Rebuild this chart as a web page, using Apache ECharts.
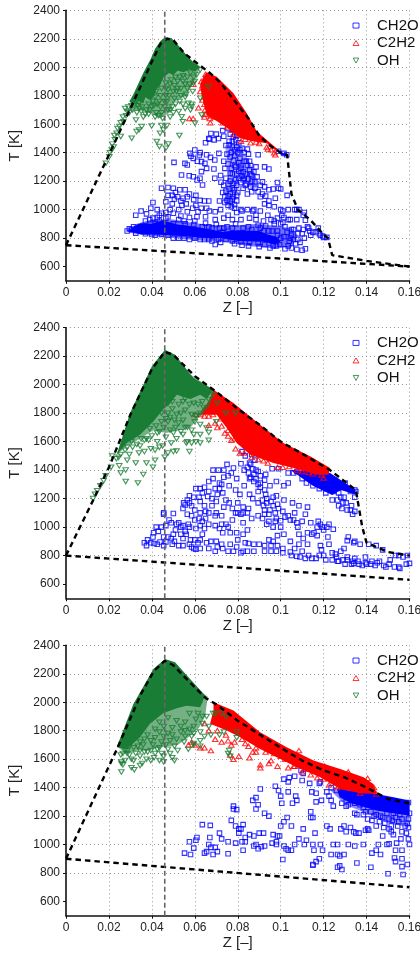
<!DOCTYPE html>
<html><head><meta charset="utf-8">
<style>html,body{margin:0;padding:0;background:#fff}#c{width:420px;height:954px}</style>
<script src="https://cdn.jsdelivr.net/npm/echarts@6/dist/echarts.min.js"></script></head>
<body><div id="c"></div>
<script>
const zTicks=[0,.02,.04,.06,.08,.1,.12,.14,.16];
const tTicks=[600,800,1000,1200,1400,1600,1800,2000,2200,2400];
const refZ=0.046;
// dashed bounds
const upper1=[[0,750],[.02,1385],[.03,1710],[.04,2040],[.044,2165],[.047,2200],[.05,2190],[.055,2100],[.06,2040],[.067,1960],[.072,1890],[.08,1735],[.085,1640],[.09,1520],[.095,1450],[.1,1400],[.103,1385],[.105,1110],[.108,1000],[.114,925],[.12,825],[.122,800],[.124,680],[.14,640],[.16,600]];
const lower1=[[0,750],[.16,600]];
const upper2=[[0,800],[.013,1200],[.02,1420],[.03,1790],[.04,2110],[.046,2230],[.05,2210],[.06,2060],[.07,1950],[.08,1830],[.09,1720],[.1,1600],[.11,1515],[.123,1400],[.135,1260],[.138,1000],[.14,890],[.15,825],[.16,800]];
const lower2=[[0,800],[.16,630]];
const upper3=[[0,900],[.024,1680],[.035,2060],[.041,2220],[.046,2290],[.05,2260],[.057,2150],[.065,2030],[.07,1985],[.08,1870],[.09,1775],[.1,1680],[.11,1590],[.12,1520],[.13,1470],[.14,1400],[.15,1320],[.16,1290]];
const lower3=[[0,900],[.16,700]];
// solid-looking dense cores
const ohCore1=[[.0295,1760],[.0314,1810],[.036,1960],[.0395,2060],[.0415,2130],[.044,2185],[.0461,2210],[.049,2205],[.0508,2180],[.0562,2085],[.059,2040],[.0625,2004],[.0601,1970],[.0575,1985],[.0547,1965],[.052,1975],[.05,1945],[.048,1960],[.0454,1930],[.044,1880],[.0423,1850],[.041,1800],[.0391,1770],[.037,1790],[.036,1745],[.033,1770],[.0314,1735]];
const c2Core1=[[.064,1934],[.0655,1965],[.0702,1934],[.078,1817],[.0842,1677],[.0889,1548],[.0982,1430],[.0982,1408],[.0935,1466],[.087,1480],[.0811,1501],[.0765,1560],[.0718,1606],[.0656,1665],[.0635,1780],[.0625,1880]];
const chCore1=[[.029,850],[.032,885],[.035,905],[.04,900],[.045,925],[.052,895],[.06,880],[.067,860],[.073,845],[.08,855],[.09,850],[.094,825],[.098,810],[.1,770],[.096,760],[.092,775],[.08,780],[.072,800],[.065,800],[.05,820],[.04,825],[.035,825]];
const chCore1b=[[.1,1400],[.1025,1395],[.1025,1380],[.1,1385]];
const ohCore2=[[.0236,1508],[.0298,1800],[.04,2130],[.0461,2245],[.0508,2210],[.0593,2047],[.0687,1965],[.0655,1900],[.0625,1930],[.058,1900],[.0516,1930],[.048,1860],[.0454,1830],[.0407,1742],[.0345,1649],[.0283,1590]];
const c2Core2=[[.0687,1965],[.078,1871],[.0904,1719],[.1013,1590],[.1137,1497],[.123,1415],[.1222,1368],[.1168,1368],[.106,1415],[.0966,1450],[.0858,1508],[.0795,1590],[.0749,1696],[.0702,1789],[.0625,1789],[.0663,1883]];
const chCore2=[[.1044,1403],[.123,1380],[.135,1260],[.1345,1230],[.128,1260],[.124,1225],[.115,1290]];
const ohCore3=[[.0236,1684],[.0314,1988],[.0407,2234],[.0461,2304],[.0508,2281],[.0578,2164],[.0648,2047],[.0625,1965],[.0562,1975],[.052,1960],[.0454,1925],[.0391,1848],[.0345,1754],[.0283,1672]];
const c2Core3=[[.0687,2000],[.078,1941],[.0904,1789],[.1028,1684],[.1153,1590],[.1277,1531],[.1386,1473],[.1432,1426],[.1448,1356],[.137,1361],[.1277,1391],[.1184,1473],[.1075,1543],[.0982,1614],[.0904,1672],[.0811,1754],[.0749,1801],[.0671,1848],[.0687,1941]];
const chCore3=[[.1262,1391],[.1401,1368],[.1526,1333],[.16,1309],[.16,1204],[.1538,1216],[.1445,1240],[.1336,1286],[.1274,1333]];
// thinner, textured regions
const ohSoft1=[[.0295,1700],[.034,1700],[.039,1680],[.044,1640],[.048,1680],[.0505,1760],[.056,1800],[.059,1880],[.0625,2000],[.05,2100],[.04,2000]];
const ohSoft2=[[.0236,1508],[.0283,1570],[.0345,1620],[.0407,1680],[.0465,1660],[.0525,1680],[.058,1700],[.0625,1780],[.067,1850],[.0687,1965],[.05,2150],[.035,1900]];
const ohSoft3=[[.0245,1680],[.028,1640],[.033,1660],[.038,1660],[.043,1680],[.0475,1690],[.052,1700],[.0575,1760],[.062,1820],[.0648,1900],[.066,2040],[.05,2200],[.035,2000]];
const chSoft1=[[.028,855],[.033,900],[.04,930],[.05,930],[.06,905],[.07,890],[.08,890],[.09,900],[.1,880],[.105,870],[.108,820],[.105,735],[.095,730],[.085,745],[.075,770],[.065,780],[.05,800],[.04,815],[.03,835]];
const chSoft1b=[[.074,1450],[.08,1470],[.083,1400],[.0875,1280],[.0895,1180],[.0875,1130],[.081,1220],[.0795,1130],[.078,1020],[.074,1040],[.0755,1250],[.075,1350]];
const chSoft3=[[.1225,1390],[.16,1300],[.16,1120],[.15,1150],[.14,1220],[.13,1280]];
// scattered markers
const oh1=[[.0186,1326],[.0202,1372],[.0213,1419],[.0222,1440],[.0228,1490],[.0236,1536],[.0255,1513],[.0249,1583],[.0267,1618],[.028,1660],[.0306,1501],[.0329,1548],[.0353,1583],[.0326,1630],[.034,1560],[.0423,1478],[.0435,1443],[.0477,1461],[.0465,1431],[.0528,1520],[.0438,1536],[.0454,1560],[.0399,1588],[.0445,1590],[.047,1590],[.0544,1618],[.0539,1653],[.0601,1606],[.0632,1665],[.0586,1724],[.057,1747],[.0625,1782],[.0663,1864],[.0593,1887],[.0609,1946],[.0625,1981],[.058,1700],[.0525,1690],[.0495,1720],[.0485,1650],[.045,1640],[.042,1680],[.0385,1670],[.036,1650],[.033,1680],[.031,1700],[.0295,1680],[.0275,1710],[.04,1720],[.044,1720],[.047,1760],[.0505,1780],[.053,1760],[.056,1810],[.059,1830],[.0515,1830],[.0475,1840],[.044,1800],[.0415,1790],[.0385,1740],[.0355,1720],[.0335,1730],[.034,1710],[.0555,1880],[.052,1900],[.0485,1880],[.0465,1890],[.0565,1930],[.0595,1930],[.0505,1870],[.0465,1800],[.0435,1760],[.0405,1760],[.0375,1700],[.0415,1650],[.0475,1700],[.0555,1710],[.0585,1740],[.035,1690],[.037,1670],[.039,1700],[.041,1730],[.043,1660],[.0445,1680],[.046,1720],[.0485,1700],[.05,1680],[.051,1740],[.0545,1740],[.0555,1790],[.0535,1800],[.052,1850],[.05,1830],[.048,1800],[.046,1760],[.0425,1740],[.0395,1790],[.042,1830],[.0445,1850],[.0465,1850],[.049,1910],[.051,1930],[.053,1930],[.0545,1900],[.0575,1880],[.0565,1850],[.0535,1850],[.06,1900],[.058,1960],[.0545,1940],[.0425,1870],[.0435,1900],[.034,1750],[.033,1760],[.032,1740],[.0305,1730],[.029,1720],[.0285,1690],[.0265,1650],[.0255,1610],[.024,1570],[.0225,1520],[.0215,1460],[.0205,1400]];
const c2_1=[[.0575,1640],[.0592,1640],[.0593,1880],[.0617,1715],[.0647,1700],[.0648,1670],[.0674,1660],[.0672,1610],[.0695,1650],[.071,1690],[.0625,1830],[.0635,1870],[.0645,1740],[.0655,1780],[.075,1580],[.0785,1530],[.0815,1480],[.086,1470],[.09,1465],[.0935,1440],[.097,1400],[.0975,1385],[.094,1425],[.068,1720],[.0635,1770],[.0645,1820],[.073,1610],[.0775,1560],[.0835,1495],[.0885,1475],[.0955,1420],[.0645,1650],[.0665,1700],[.067,1640],[.063,1900],[.065,1950]];
const ch1=[[.0503,1332],[.0538,1243],[.0574,1238],[.0593,1231],[.0554,1325],[.0565,1313],[.0577,1395],[.06,1419],[.0621,1384],[.0593,1360],[.0631,1337],[.0647,1325],[.0655,1290],[.0631,1267],[.0624,1220],[.0611,1208],[.0636,1173],[.0673,1367],[.0693,1349],[.0712,1395],[.0689,1285],[.0693,1220],[.0722,1192],[.0655,1385],[.0625,1400],[.0582,1375],[.0612,1340],[.065,1470],[.0668,1495],[.0675,1535],[.069,1490],[.071,1500],[.073,1555],[.0755,1570],[.0775,1565],[.079,1490],[.0665,1500],[.07,1530],[.0735,1515],[.076,1455],[.077,1400],[.0745,1450],[.075,1390],[.0735,1340],[.074,1290],[.0755,1320],[.078,1345],[.079,1300],[.08,1400],[.081,1360],[.0795,1250],[.0815,1310],[.0825,1265],[.083,1220],[.084,1180],[.0845,1310],[.086,1250],[.0865,1200],[.082,1430],[.0845,1425],[.085,1390],[.0895,1385],[.0925,1300],[.0945,1285],[.0875,1265],[.089,1230],[.0905,1170],[.0925,1160],[.088,1150],[.0865,1125],[.0845,1110],[.0825,1150],[.08,1120],[.078,1090],[.0765,1060],[.074,1050],[.0755,1030],[.0785,1010],[.0775,1150],[.0755,1180],[.073,1120],[.0745,1220],[.0765,1255],[.072,1240],[.0715,1060],[.0905,1090],[.0925,1040],[.0945,1030],[.0965,1145],[.099,1150],[.0945,1140],[.097,1020],[.101,990],[.1035,1000],[.1065,1000],[.1015,945],[.097,920],[.094,960],[.0905,990],[.0875,1000],[.0845,1000],[.082,990],[.0795,980],[.0755,960],[.072,1000],[.0695,985],[.0668,990],[.0645,1060],[.0665,1060],[.0625,1065],[.0595,1070],[.0605,1100],[.0575,1110],[.0555,1140],[.053,1140],[.05,1150],[.0475,1155],[.0445,1150],[.0505,1075],[.052,1090],[.054,1030],[.056,1040],[.059,1010],[.0615,985],[.0565,985],[.0525,1000],[.0495,1040],[.0465,1055],[.0425,1000],[.0405,1050],[.0395,1010],[.0375,970],[.035,990],[.0325,960],[.0405,940],[.0435,960],[.0465,940],[.05,900],[.055,920],[.06,920],[.065,905],[.07,895],[.075,880],[.079,900],[.085,880],[.0895,890],[.093,885],[.097,900],[.101,910],[.1045,930],[.1075,930],[.111,980],[.1085,1000],[.1115,925],[.113,870],[.1085,870],[.105,820],[.11,830],[.115,840],[.118,830],[.1195,815],[.1215,805],[.1175,870],[.11,715],[.1115,725],[.1075,720],[.105,730],[.102,725],[.098,745],[.095,730],[.09,740],[.085,745],[.082,750],[.0785,760],[.072,770],[.0695,755],[.0665,790],[.0625,790],[.0575,790],[.0525,800],[.0475,820],[.0415,820],[.037,830],[.0325,835],[.0285,850],[.0295,865],[.0315,880],[.108,790],[.104,780],[.1,800],[.0985,850],[.102,880],[.106,860],[.111,800],[.114,820],[.1,900],[.096,850],[.092,850],[.0875,810],[.0835,830],[.077,820],[.073,840],[.068,870],[.063,830],[.058,860],[.053,850],[.1,1000],[.103,1100],[.0985,1190],[.1028,1385],[.1015,1395],[.099,1410]];
const ch1more=[[.076,1480],[.0775,1440],[.0785,1420],[.0765,1370],[.0785,1380],[.0795,1440],[.081,1420],[.083,1400],[.0805,1330],[.0785,1310],[.077,1290],[.0775,1250],[.079,1210],[.0805,1270],[.082,1235],[.0835,1250],[.085,1215],[.0865,1240],[.0855,1280],[.0885,1300],[.0815,1190],[.0795,1170],[.078,1185],[.0765,1200],[.0785,1140],[.0765,1110],[.0775,1075],[.0795,1060],[.0785,1035],[.0755,1095],[.074,1090],[.076,1145],[.0735,1170],[.086,1160],[.088,1195],[.0895,1125],[.0915,1110],[.093,1095],[.0915,1195],[.084,1340],[.083,1340],[.0855,1340],[.086,1310],[.0775,1480],[.0805,1470],[.0795,1520],[.078,1510],[.0765,1530],[.0815,1290],[.0835,1170],[.0825,1210],[.0805,1220],[.0795,1100],[.077,1020],[.075,1065],[.0745,1130],[.0415,900],[.038,880],[.0345,880],[.033,860],[.0305,860],[.0435,920],[.0475,950],[.0465,980],[.0445,975],[.0425,945],[.039,930],[.037,920],[.0525,930],[.0555,900],[.0595,895],[.0635,880],[.0665,880],[.0715,870],[.0735,870],[.0775,870],[.0825,870],[.0865,860],[.0905,870],[.0945,850],[.0985,820],[.1015,810],[.1045,800],[.107,760],[.1035,745],[.0995,755],[.0965,745],[.0925,755],[.0895,765],[.0855,770],[.0815,775],[.0775,780],[.0745,790],[.071,790],[.068,780],[.0645,790],[.06,800],[.055,800],[.05,800],[.0445,825],[.04,825],[.105,860],[.108,830],[.1105,860],[.1135,850],[.1165,845],[.1185,820],[.12,805],[.103,840],[.106,790],[.109,770],[.1035,930],[.1005,960],[.0985,940],[.0955,930],[.092,920],[.0885,930],[.0855,940],[.0815,930],[.0775,930],[.0735,940],[.0695,930],[.065,950],[.061,950],[.0575,945],[.0535,955],[.05,975],[.0485,1000],[.0545,1080],[.0565,1090],[.0535,1060],[.051,1120],[.0495,1100],[.0475,1100],[.063,1010],[.0605,1030],[.0655,1010],[.0815,1000],[.087,990],[.0885,960],[.1075,1000],[.1105,960],[.1125,880],[.0975,1080],[.0945,1060],[.1,1145]];
const oh2=[[.0126,1200],[.0135,1230],[.0145,1255],[.016,1290],[.0175,1325],[.0185,1360],[.021,1420],[.0235,1480],[.0248,1430],[.0255,1380],[.0278,1400],[.0285,1470],[.0295,1510],[.0325,1450],[.0335,1310],[.0278,1320],[.036,1370],[.0375,1450],[.0405,1420],[.0415,1470],[.046,1490],[.0475,1520],[.05,1530],[.0515,1535],[.0575,1530],[.045,1570],[.0425,1600],[.0395,1550],[.0365,1530],[.0345,1570],[.031,1560],[.056,1590],[.0585,1590],[.0605,1600],[.0625,1590],[.0665,1610],[.0665,1665],[.0655,1695],[.0625,1650],[.0595,1650],[.0565,1600],[.0545,1650],[.0515,1620],[.049,1590],[.0465,1630],[.0435,1670],[.04,1640],[.0565,1700],[.06,1740],[.0545,1750],[.051,1700],[.0475,1740],[.0445,1740],[.0585,1790],[.0625,1800],[.0555,1820],[.0515,1790],[.0475,1800],[.0445,1800],[.0635,1880],[.0595,1870],[.0525,1860],[.0475,1870],[.0555,1900],[.0685,1930],[.0665,1895],[.0705,1870],[.0745,1800],[.079,1800],[.07,1740],[.034,1520],[.0285,1560],[.0215,1500],[.0535,1670],[.0415,1540],[.0435,1560],[.0365,1610],[.0375,1620],[.039,1690],[.042,1710],[.0455,1700],[.0485,1680],[.05,1660],[.0525,1730],[.0555,1700],[.0585,1680],[.0605,1780],[.0625,1720],[.064,1840],[.0615,1860],[.0575,1860],[.0545,1880],[.0495,1880],[.0495,1830],[.0535,1800],[.0465,1760],[.0485,1770],[.0505,1750],[.0425,1660],[.0385,1610],[.035,1620],[.033,1580],[.0305,1600],[.0275,1540],[.0255,1510],[.0245,1490]];
const c2_2=[[.0605,1790],[.0625,1790],[.0645,1780],[.0665,1780],[.0685,1790],[.0665,1715],[.0695,1730],[.0705,1700],[.0725,1710],[.0755,1680],[.0755,1640],[.0785,1620],[.079,1550],[.081,1520],[.0865,1490],[.0895,1475],[.094,1450],[.0985,1420],[.101,1420],[.104,1425],[.11,1390],[.115,1375],[.119,1365],[.12,1345],[.074,1660],[.077,1610],[.072,1760],[.0645,1830],[.083,1520],[.092,1465],[.1075,1400],[.113,1385]];
const ch2=[[.0365,890],[.0375,870],[.038,910],[.0395,890],[.0405,930],[.041,885],[.0425,880],[.043,970],[.042,1000],[.0408,960],[.0438,895],[.0455,930],[.0445,1000],[.0455,1090],[.0455,1100],[.048,1050],[.0465,1010],[.0455,870],[.0475,930],[.049,920],[.0495,880],[.05,950],[.051,980],[.0505,900],[.0525,870],[.0535,950],[.0545,920],[.0555,970],[.056,950],[.0535,1000],[.0545,1010],[.0515,1020],[.05,1095],[.0545,870],[.0575,880],[.0595,850],[.0605,845],[.0625,850],[.058,910],[.06,910],[.0625,910],[.0575,1000],[.06,1050],[.062,1060],[.0625,1100],[.0585,1080],[.0565,1090],[.0565,1190],[.0548,1170],[.0575,1220],[.0555,1155],[.0585,1150],[.0605,1270],[.0625,1270],[.0645,1280],[.062,1210],[.0625,1180],[.0595,1210],[.0645,1150],[.0665,1100],[.065,1060],[.0635,1040],[.0665,1020],[.0645,990],[.0625,1010],[.0605,990],[.0695,1010],[.0715,990],[.0725,1020],[.0745,1020],[.0755,1000],[.0775,1050],[.08,1100],[.0825,1030],[.0845,980],[.0825,950],[.0795,960],[.0765,960],[.073,960],[.07,900],[.0655,890],[.0665,850],[.0695,830],[.073,850],[.0755,830],[.078,830],[.0825,830],[.0835,890],[.08,910],[.085,885],[.0875,880],[.09,880],[.0925,870],[.0955,830],[.0985,870],[.101,850],[.1045,825],[.1075,795],[.11,830],[.1115,780],[.1145,780],[.118,800],[.121,770],[.124,770],[.127,760],[.13,740],[.1335,760],[.136,760],[.14,740],[.144,730],[.146,760],[.149,720],[.153,720],[.1555,710],[.1585,740],[.16,745],[.157,790],[.1535,800],[.151,770],[.148,730],[.142,740],[.138,730],[.133,740],[.128,830],[.1255,810],[.131,790],[.1345,780],[.1395,790],[.1445,870],[.1475,840],[.141,880],[.137,880],[.134,890],[.131,905],[.1295,850],[.1345,900],[.1315,930],[.1245,985],[.1225,1020],[.1195,1000],[.117,1000],[.1145,950],[.117,940],[.1185,870],[.1125,880],[.1105,920],[.1085,880],[.1065,850],[.1045,900],[.1015,950],[.0985,940],[.0965,1000],[.0935,1020],[.098,1060],[.101,1110],[.1035,1080],[.1065,1100],[.11,1040],[.108,1000],[.1115,1090],[.1125,1140],[.1085,1150],[.1055,1170],[.1015,1190],[.0985,1160],[.098,1220],[.1015,1290],[.1035,1310],[.098,1320],[.095,1290],[.0925,1260],[.0905,1310],[.0895,1390],[.087,1410],[.0845,1420],[.0815,1445],[.078,1415],[.075,1440],[.0735,1400],[.071,1400],[.0685,1400],[.0665,1320],[.0685,1340],[.0735,1350],[.076,1290],[.0715,1270],[.0705,1230],[.07,1180],[.073,1240],[.0745,1190],[.076,1170],[.0735,1140],[.079,1260],[.081,1230],[.083,1290],[.086,1350],[.0885,1340],[.0895,1250],[.0855,1230],[.087,1200],[.0895,1170],[.092,1150],[.093,1230],[.095,1120],[.0945,1090],[.0975,1100],[.0925,1090],[.0895,1080],[.0865,1060],[.0845,1100],[.0825,1140],[.08,1170],[.0815,1090],[.082,1530],[.0835,1500],[.0865,1510],[.0855,1450],[.088,1470],[.099,1410],[.1035,1380],[.106,1380],[.11,1340],[.112,1310],[.115,1290],[.118,1270],[.121,1240],[.124,1190],[.127,1150],[.129,1170],[.131,1120],[.1335,1090],[.1345,1110],[.128,1210],[.122,1290],[.125,1330],[.13,1310],[.133,1260],[.135,1250],[.0775,1130],[.079,1100],[.07,1100],[.068,1150],[.066,1215],[.0725,1300],[.077,1380],[.0795,1340],[.093,1370],[.096,1410],[.057,1020],[.049,1030],[.0465,895],[.0525,1030],[.1045,1050],[.114,1030]];
const ch2more=[[.083,1400],[.085,1380],[.086,1440],[.0875,1370],[.0885,1400],[.0905,1360],[.0855,1340],[.0875,1320],[.0895,1300],[.0905,1280],[.0925,1330],[.0935,1200],[.0915,1190],[.0935,1170],[.0955,1180],[.0965,1150],[.0965,1210],[.099,1130],[.0925,1120],[.0915,1060],[.0945,1040],[.0975,1040],[.1,1045],[.102,1070],[.106,1050],[.1075,1030],[.1085,950],[.1125,960],[.0945,910],[.098,830],[.101,820],[.105,800],[.109,790],[.113,800],[.1165,780],[.12,800],[.124,820],[.126,790],[.129,770],[.1365,740],[.1395,750],[.1425,760],[.145,750],[.1505,740],[.155,720],[.159,800],[.155,800],[.1175,1040],[.12,980],[.1215,1000],[.1185,1020],[.1155,960],[.122,930],[.1225,880],[.119,840],[.1265,760],[.131,770],[.134,745],[.1165,1380],[.1185,1340],[.1205,1320],[.1155,1350],[.1115,1370],[.1075,1390],[.1245,1290],[.127,1240],[.1295,1210],[.1265,1190],[.1285,1130],[.133,1150],[.1305,1170],[.1325,1120],[.1345,1210],[.1245,1250],[.1215,1270],[.1295,1280],[.1325,1250],[.1345,1260],[.0755,1360],[.0715,1310],[.0695,1270],[.0665,1250],[.068,1200],[.0635,1240],[.06,1120],[.0575,1170],[.0545,1130],[.065,1110],[.0695,1080],[.0725,1080],[.085,1130],[.0825,1100],[.0635,950],[.0615,890],[.0585,860],[.0675,900],[.0705,860],[.0725,880],[.0765,880],[.0795,860],[.0815,820],[.0845,830],[.0875,830],[.0925,830],[.0955,870],[.0965,900],[.1,1000]];
const oh3=[[.0258,1570],[.0258,1580],[.0265,1560],[.0275,1590],[.0258,1510],[.0315,1590],[.0305,1600],[.0295,1630],[.0318,1525],[.0305,1540],[.0345,1555],[.0355,1570],[.0375,1600],[.0395,1590],[.0435,1590],[.0455,1580],[.0505,1590],[.0485,1640],[.0455,1620],[.0415,1640],[.038,1650],[.0345,1620],[.0265,1640],[.0285,1640],[.0295,1690],[.0335,1690],[.036,1700],[.0405,1700],[.0435,1680],[.0465,1700],[.0505,1690],[.052,1660],[.055,1720],[.057,1670],[.0595,1700],[.0625,1730],[.0645,1760],[.0595,1780],[.0555,1760],[.0515,1740],[.0475,1780],[.0435,1790],[.038,1770],[.0675,1770],[.0665,1830],[.0635,1850],[.0605,1880],[.0655,1900],[.0685,1920],[.0695,1920],[.0725,1920],[.0745,1900],[.0795,1790],[.0795,1750],[.0765,1620],[.076,1660],[.0755,1640],[.0735,1790],[.0715,1770],[.0625,1690],[.0595,1710],[.0495,1610],[.041,1610],[.0285,1660],[.0555,1860],[.0515,1870],[.0475,1890],[.0575,1920],[.0325,1640],[.0345,1660],[.0365,1650],[.0395,1660],[.0425,1670],[.0445,1720],[.0485,1730],[.0535,1790],[.0575,1810],[.0535,1830],[.0495,1820],[.0455,1830],[.0415,1750],[.0395,1730],[.0365,1740],[.0345,1720],[.0315,1680],[.0275,1660],[.0255,1630],[.0455,1760],[.0415,1810],[.0435,1860],[.0595,1830],[.0625,1790],[.0615,1920],[.0635,1900],[.0585,1760],[.0555,1800],[.0495,1770],[.0475,1670],[.0445,1640]];
const c2_3=[[.057,1700],[.0585,1720],[.06,1700],[.0625,1680],[.0645,1680],[.0675,1660],[.0695,1740],[.0725,1720],[.0755,1730],[.077,1700],[.0765,1630],[.078,1600],[.0805,1620],[.0855,1610],[.087,1650],[.0885,1680],[.0905,1560],[.0905,1540],[.0945,1570],[.0955,1590],[.0985,1550],[.1,1620],[.1035,1540],[.106,1550],[.11,1510],[.114,1490],[.12,1460],[.131,1400],[.137,1360],[.1445,1355],[.093,1650],[.085,1690],[.082,1740],[.0745,1770],[.0705,1800],[.0665,1800],[.0645,1850],[.0785,1720],[.0835,1710],[.0885,1650],[.097,1640],[.102,1600],[.1065,1550],[.1125,1530],[.117,1470],[.1225,1420],[.1265,1400],[.1085,1660],[.1205,1550],[.1315,1510],[.1405,1465],[.1435,1400]];
const ch3=[[.0552,940],[.0575,1020],[.058,930],[.0605,1030],[.061,1050],[.0595,975],[.0635,1140],[.0672,1135],[.067,1050],[.0645,940],[.0655,950],[.0665,1000],[.0675,980],[.0695,980],[.0705,950],[.0685,930],[.0715,1080],[.0725,1040],[.0755,1020],[.0755,935],[.077,1170],[.078,1270],[.078,1250],[.0795,1245],[.079,1130],[.0805,1110],[.0815,1110],[.0825,1140],[.0805,1080],[.079,1010],[.082,1020],[.0825,960],[.0835,1050],[.0835,1020],[.0855,1070],[.0875,1060],[.0885,1000],[.0895,970],[.0875,990],[.091,985],[.0925,990],[.092,1080],[.09,1080],[.087,1310],[.0885,1330],[.0885,1250],[.0895,1280],[.0925,1220],[.0945,1200],[.0965,1070],[.096,1010],[.098,1020],[.0995,1060],[.098,1000],[.0985,1060],[.1,1130],[.1015,1160],[.103,1190],[.105,1130],[.1015,990],[.1025,970],[.1035,960],[.105,960],[.101,895],[.1065,1000],[.1085,1040],[.111,1000],[.112,1030],[.1105,1110],[.114,1230],[.115,1190],[.114,1190],[.116,1080],[.1155,960],[.115,1000],[.1185,1000],[.1195,960],[.115,860],[.115,855],[.1165,880],[.118,900],[.1215,1130],[.123,1110],[.1245,1000],[.1235,930],[.1265,930],[.128,1110],[.1295,1130],[.1305,1090],[.1325,1120],[.134,1090],[.135,1080],[.1365,1080],[.1395,1100],[.141,1100],[.1385,1000],[.1345,990],[.1315,1000],[.1265,1000],[.1275,920],[.1295,930],[.1355,870],[.1265,840],[.1275,850],[.1285,825],[.142,840],[.1425,940],[.1445,960],[.1465,930],[.1455,1000],[.1495,1000],[.1505,1005],[.154,1010],[.156,1040],[.1565,960],[.1535,960],[.15,795],[.153,905],[.1565,900],[.1565,845],[.1535,880],[.159,860],[.157,790],[.16,1000],[.1595,1040],[.1565,1090],[.1585,1080],[.1405,1110],[.1445,1130],[.148,1120],[.1505,1110],[.152,1170],[.1435,1200],[.1385,1260],[.1355,1210],[.1315,1280],[.1285,1290],[.1305,1270],[.1245,1270],[.1235,1310],[.1225,1340],[.119,1310],[.1165,1300],[.1165,1360],[.118,1430],[.1135,1430],[.1145,1370],[.11,1450],[.1065,1480],[.104,1470],[.1035,1440],[.1015,1460],[.0975,1410],[.0905,1390],[.1035,1370],[.107,1340],[.1075,1310],[.1055,1290],[.1005,1290],[.1,1340],[.099,1380],[.1105,1500],[.1095,1520],[.1185,1440],[.1215,1370],[.1235,1400],[.1285,1370],[.1345,1220],[.1385,1210],[.1405,1180],[.1425,1170],[.146,1160],[.1485,1150],[.1515,1130],[.155,1160],[.159,1150],[.1465,1200],[.1495,1260],[.153,1270],[.1565,1260],[.1595,1295],[.1412,1330],[.135,1350],[.1315,1350],[.126,1380],[.129,1390],[.1305,1330],[.1325,1310],[.1345,1290],[.137,1280],[.1395,1230],[.142,1230],[.1445,1210],[.1475,1190],[.1505,1180],[.1535,1190],[.1565,1180],[.1595,1180],[.16,1220],[.1555,1210],[.1525,1220],[.1495,1220],[.1595,1120],[.158,1130],[.1545,1130],[.1515,1090],[.1475,1060],[.1525,1070]];
const FONT='"Liberation Sans",Arial,sans-serif';
const BLUE='#0000ff',RED='#ff0000',GREEN='#1a7d35';
const panels=[
 {top:10.3,height:270.5,up:upper1,lo:lower1,ch:ch1.concat(ch1more),c2:c2_1,oh:oh1,chCores:[chCore1,chCore1b],c2Core:c2Core1,ohCore:ohCore1,chSoft:[[chSoft1,.55],[chSoft1b,.35]],ohSoft:ohSoft1},
 {top:327.7,height:270.6,up:upper2,lo:lower2,ch:ch2.concat(ch2more),c2:c2_2,oh:oh2,chCores:[chCore2],c2Core:c2Core2,ohCore:ohCore2,chSoft:[],ohSoft:ohSoft2},
 {top:645.3,height:270.4,up:upper3,lo:lower3,ch:ch3,c2:c2_3,oh:oh3,chCores:[chCore3],c2Core:c2Core3,ohCore:ohCore3,chSoft:[[chSoft3,.45]],ohSoft:ohSoft3}
];
const grid=[],xAxis=[],yAxis=[],series=[],legend=[];
panels.forEach((p,i)=>{
 grid.push({left:66,width:343.5,top:p.top,height:p.height,outerBoundsMode:'none'});
 const line={show:true,onZero:false,lineStyle:{color:'#111',width:1.6}};
 const split={show:true,showMinLine:false,lineStyle:{color:'#999',type:[1,3],width:1}};
 xAxis.push({gridIndex:i,type:'value',min:0,max:.16,interval:.02,name:'Z [–]',nameLocation:'middle',nameGap:20,
  nameTextStyle:{fontFamily:FONT,fontSize:15,color:'#222'},axisLine:line,axisTick:{show:true,length:3,lineStyle:{color:'#111'}},
  axisLabel:{fontFamily:FONT,fontSize:12,color:'#222',margin:6,showMinLabel:true,showMaxLabel:true,hideOverlap:false,formatter:v=>String(+v.toFixed(2))},splitLine:split});
 yAxis.push({gridIndex:i,type:'value',min:500,max:2400,name:'T [K]',nameLocation:'middle',nameGap:31,
  nameTextStyle:{fontFamily:FONT,fontSize:15,color:'#222'},axisLine:line,
  axisTick:{show:true,length:3,lineStyle:{color:'#111'},customValues:tTicks},
  axisLabel:{fontFamily:FONT,fontSize:12,color:'#222',margin:6,customValues:tTicks,formatter:v=>String(v)},splitLine:split});
 const core=(pts,color,z,opacity=1)=>({type:'custom',xAxisIndex:i,yAxisIndex:i,silent:true,z,data:pts,animation:false,
  renderItem:(params,api)=>params.dataIndex===0?{type:'polygon',shape:{points:pts.map(q=>api.coord(q))},style:{fill:color,opacity}}:null,encode:{x:0,y:1}});
 const scat=(name,data,symbol,rot,color,size,z)=>({type:'scatter',name,xAxisIndex:i,yAxisIndex:i,data,symbol,symbolRotate:rot,symbolSize:size,z,
  itemStyle:{color:'rgba(255,255,255,0)',borderColor:color,borderWidth:1.1},animation:false,silent:true,large:false});
 p.chSoft.forEach(s=>series.push(core(s[0],BLUE,3,s[1])));
 series.push(scat('CH2O',p.ch,'rect',0,BLUE,4.5,3));
 p.chCores.forEach(c=>series.push(core(c,BLUE,3)));
 series.push(core(p.c2Core,RED,4));
 series.push(scat('C2H2',p.c2,'triangle',0,RED,[5.5,4.5],4));
 series.push(core(p.ohSoft,GREEN,5,.6));
 series.push(core(p.ohCore,GREEN,5));
 series.push(scat('OH',p.oh,'triangle',180,GREEN,[5.5,4.5],5));
 const dash={color:'#000',width:2.4,type:[5.5,4]};
 series.push({type:'line',xAxisIndex:i,yAxisIndex:i,data:p.up,symbol:'none',lineStyle:dash,z:6,animation:false,silent:true});
 series.push({type:'line',xAxisIndex:i,yAxisIndex:i,data:p.lo,symbol:'none',lineStyle:dash,z:6,animation:false,silent:true});
 series.push({type:'line',xAxisIndex:i,yAxisIndex:i,data:[[refZ,500],[refZ,2400]],symbol:'none',lineStyle:{color:'#666',width:1.6,type:[5,3]},z:6,animation:false,silent:true});
 legend.push({data:[{name:'CH2O',icon:'rect'},{name:'C2H2',icon:'triangle'},{name:'OH',icon:'path://M0,0L10,0L5,9Z'}],orient:'vertical',left:352.5,top:p.top+6.5,padding:0,itemGap:0,itemWidth:6,itemHeight:5,selectedMode:false,
  itemStyle:{borderWidth:1},
  textStyle:{fontFamily:FONT,fontSize:15,color:'#111',lineHeight:17.5,padding:[0,0,0,13]}});
});
const chart=echarts.init(document.getElementById('c'),null,{renderer:'canvas'});
chart.setOption({animation:false,backgroundColor:'#fff',grid,xAxis,yAxis,series,legend});
</script></body></html>
